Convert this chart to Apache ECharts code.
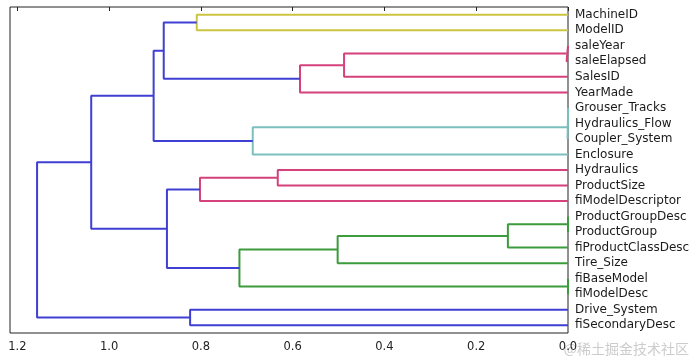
<!DOCTYPE html>
<html>
<head>
<meta charset="utf-8">
<script src="https://cdn.jsdelivr.net/npm/echarts@6/dist/echarts.min.js"></script>
<style>html,body{margin:0;padding:0;background:#fff}#c{width:697px;height:360px}</style>
</head>
<body>
<div id="c"></div>
<script>
// Leaf labels, top to bottom
const leaves = ['MachineID','ModelID','saleYear','saleElapsed','SalesID','YearMade',
  'Grouser_Tracks','Hydraulics_Flow','Coupler_System','Enclosure','Hydraulics',
  'ProductSize','fiModelDescriptor','ProductGroupDesc','ProductGroup','fiProductClassDesc',
  'Tire_Size','fiBaseModel','fiModelDesc','Drive_System','fiSecondaryDesc'];
// Merges: child A, child B (node ids; leaves 0..20, new clusters 21..), distance
const mergeA    = [2, 6, 13, 17, 22, 23, 21, 26, 27, 10, 25, 28, 30, 0, 19, 33, 34, 37, 38, 39];
const mergeB    = [3, 7, 14, 18, 8, 15, 4, 16, 5, 11, 9, 24, 12, 1, 20, 32, 29, 31, 36, 35];
const mergeDist = [0.003, 0.0, 0.0, 0.0, 0.001, 0.131, 0.488, 0.502, 0.584, 0.6325, 0.687, 0.716, 0.802, 0.809, 0.8235, 0.874, 0.881, 0.903, 1.039, 1.157];
const mergeColor = ['pink','teal','green','green','teal','green','pink','green','pink','pink','teal','green','pink','yellow','blue','blue','blue','blue','blue','blue'];
const xTicks = [0, 0.2, 0.4, 0.6, 0.8, 1.0, 1.2];

const palette = {blue:'#3f3fd4', yellow:'#cbc53f', pink:'#d4417b', teal:'#7cbfbf', green:'#3c9b3c'};

// node positions
const nodeY = [], nodeX = [];
leaves.forEach((_, i) => { nodeY[i] = 5 + 10 * i; nodeX[i] = 0; });
const series = [];
mergeA.forEach((a, k) => {
  const b = mergeB[k], d = mergeDist[k], id = leaves.length + k;
  nodeY[id] = (nodeY[a] + nodeY[b]) / 2;
  nodeX[id] = d;
  series.push({
    type: 'line', xAxisIndex: 0, yAxisIndex: 0, symbol: 'none', silent: true,
    animation: false, z: 2,
    lineStyle: {color: palette[mergeColor[k]], width: 2},
    data: [[nodeX[a], nodeY[a]], [d, nodeY[a]], [d, nodeY[b]], [nodeX[b], nodeY[b]]]
  });
});

const chart = echarts.init(document.getElementById('c'));
chart.setOption({
  animation: false,
  backgroundColor: '#fff',
  grid: {left: 10, right: 129, top: 7, bottom: 27, show: true, borderColor: '#222', borderWidth: 1},
  xAxis: [{
    type: 'value', min: 0, max: 1.216, inverse: true,
    axisLine: {show: false}, splitLine: {show: false},
    axisTick: {show: true, length: 4, lineStyle: {color: '#222'}, customValues: xTicks},
    axisLabel: {color: '#222', fontFamily: 'DejaVu Sans', fontSize: 11.5, margin: 8,
      customValues: xTicks, formatter: v => v.toFixed(1)}
  }],
  yAxis: [{
    type: 'value', min: 0, max: 210, inverse: true, show: false
  }, {
    type: 'category', position: 'right', inverse: true, data: leaves,
    axisLine: {show: false}, axisTick: {show: false}, splitLine: {show: false},
    axisLabel: {color: '#1a1a1a', fontFamily: 'DejaVu Sans', fontSize: 12, margin: 7,
      interval: 0, hideOverlap: false}
  }],
  graphic: [{
    type: 'text', right: 8, bottom: 4, silent: true,
    style: {text: '@稀土掘金技术社区', fill: '#cccccc', font: '14px "Noto Sans CJK SC"'}
  }],
  series: series
});
</script>
</body>
</html>
